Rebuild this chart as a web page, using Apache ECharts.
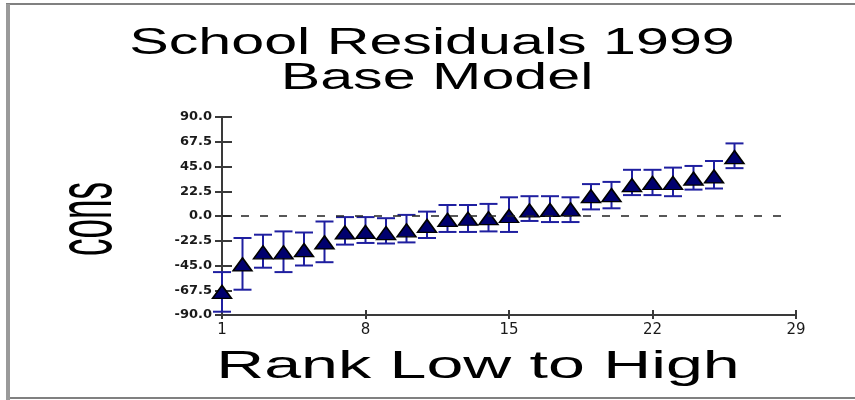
<!DOCTYPE html>
<html>
<head>
<meta charset="utf-8">
<script src="https://cdn.jsdelivr.net/npm/echarts@6/dist/echarts.min.js"></script>
<style>
html,body{margin:0;padding:0;background:#fff;}
#chart{width:855px;height:400px;}
</style>
</head>
<body>
<div id="chart"></div>
<script>
// ---- data ----
var ranks  = [1,2,3,4,5,6,7,8,9,10,11,12,13,14,15,16,17,18,19,20,21,22,23,24,25,26];
var values = [-69,-44,-33,-33,-31,-24,-15,-14.5,-15.5,-13,-9,-3.5,-2.5,-2,0,5,5.5,6,18,19,28,30,30,34,36,53.5];
var lower  = [-87,-67,-47,-51,-45,-42,-26,-24.5,-25,-24,-20,-14.5,-14.5,-14,-14.5,-4.5,-5.5,-5.5,6,7,19,19,18,24,25,43.5];
var upper  = [-51,-20,-17,-14,-15,-5,-1,-1,-2,1,4,10,10,11,17,18,18,17,29,31,42,42,44,45.5,50,66];
var xTicks = [1,8,15,22,29];
var yTicks = [-90,-67.5,-45,-22.5,0,22.5,45,67.5,90];
var zeroLineFrom = 1, zeroLineTo = 28.6;
var titleLine1 = 'School Residuals 1999';
var titleLine2 = 'Base Model';
var xTitle = 'Rank Low to High';
var yTitle = 'cons';

var chart = echarts.init(document.getElementById('chart'), null, {renderer:'canvas'});

var pts = ranks.map(function(r,i){return [r, values[i]];});
var bars = ranks.map(function(r,i){return [r, lower[i], upper[i]];});

var axisCol = '#3a3a3a';
var labelFont = '"DejaVu Sans"';

var option = {
  backgroundColor:'#ffffff',
  animation:false,
  grid:{left:222, right:59, top:117, bottom:85, containLabel:false},
  xAxis:[{
    type:'value', min:1, max:29,
    axisLine:{show:true, onZero:false, lineStyle:{color:axisCol, width:2}},
    axisTick:{show:true, inside:false, length:4, customValues:xTicks, lineStyle:{color:axisCol, width:2}},
    axisLabel:{show:true, customValues:xTicks, margin:8, color:'#1a1a1a', fontSize:15, fontFamily:labelFont},
    splitLine:{show:false}
  },{
    type:'value', min:1, max:29, position:'bottom', offset:0,
    axisLine:{show:false, onZero:false},
    axisTick:{show:true, inside:true, length:5, customValues:xTicks, lineStyle:{color:axisCol, width:2}},
    axisLabel:{show:false}, splitLine:{show:false}
  }],
  yAxis:[{
    type:'value', min:-90, max:90, interval:22.5,
    axisLine:{show:true, onZero:false, lineStyle:{color:axisCol, width:2}},
    axisTick:{show:true, inside:false, length:7, lineStyle:{color:axisCol, width:2}},
    axisLabel:{show:true, margin:10, color:'#1a1a1a', fontSize:13, fontWeight:'bold', fontFamily:labelFont,
      customValues:yTicks,
      formatter:function(v){return v.toFixed(1);}},
    splitLine:{show:false}
  },{
    type:'value', min:-90, max:90, interval:22.5, position:'left', offset:0,
    axisLine:{show:false, onZero:false},
    axisTick:{show:true, inside:true, length:10, lineStyle:{color:axisCol, width:2}},
    axisLabel:{show:false}, splitLine:{show:false}
  }],
  series:[{
    type:'custom',
    xAxisIndex:0, yAxisIndex:0,
    data:bars,
    z:2,
    renderItem:function(params, api){
      var x = api.value(0);
      var lo = api.coord([x, api.value(1)]);
      var hi = api.coord([x, api.value(2)]);
      var cap = 9;
      var st = {stroke:'#1f1fa0', lineWidth:2};
      return {type:'group', children:[
        {type:'line', shape:{x1:lo[0], y1:lo[1], x2:hi[0], y2:hi[1]}, style:st},
        {type:'line', shape:{x1:lo[0]-cap, y1:lo[1], x2:lo[0]+cap, y2:lo[1]}, style:st},
        {type:'line', shape:{x1:hi[0]-cap, y1:hi[1], x2:hi[0]+cap, y2:hi[1]}, style:st}
      ]};
    }
  },{
    type:'scatter',
    xAxisIndex:0, yAxisIndex:0,
    data:pts,
    z:3,
    symbol:'triangle',
    symbolSize:[19,13],
    itemStyle:{color:'#00006e', borderColor:'#000000', borderWidth:1.5, opacity:1},
    markLine:{
      silent:true, symbol:['none','none'],
      label:{show:false},
      lineStyle:{color:'#222', type:[8,11], width:1.5},
      data:[[{coord:[zeroLineFrom,0]},{coord:[zeroLineTo,0]}]]
    }
  }],
  graphic:[
    {type:'rect', shape:{x:7, y:4, width:860, height:394}, style:{fill:'none', stroke:'#808080', lineWidth:2}, silent:true},
    {type:'rect', shape:{x:6, y:4, width:4, height:396}, style:{fill:'#9a9a9a'}, silent:true},
    {type:'text', x:432, y:44, scaleX:1.6,
      style:{text:titleLine1, x:0, y:0, align:'center', verticalAlign:'middle', font:'37px "Liberation Sans"', fill:'#000'}},
    {type:'text', x:437, y:79, scaleX:1.6,
      style:{text:titleLine2, x:0, y:0, align:'center', verticalAlign:'middle', font:'37px "Liberation Sans"', fill:'#000'}},
    {type:'text', x:478, y:367, scaleX:1.70,
      style:{text:xTitle, x:0, y:0, align:'center', verticalAlign:'middle', font:'39px "Liberation Sans"', fill:'#000'}},
    {type:'text', x:90, y:219, rotation:Math.PI/2, scaleY:2.2,
      style:{text:yTitle, x:0, y:0, align:'center', verticalAlign:'middle', font:'35px "Liberation Sans"', fill:'#000'}}
  ]
};
chart.setOption(option);
</script>
</body>
</html>
